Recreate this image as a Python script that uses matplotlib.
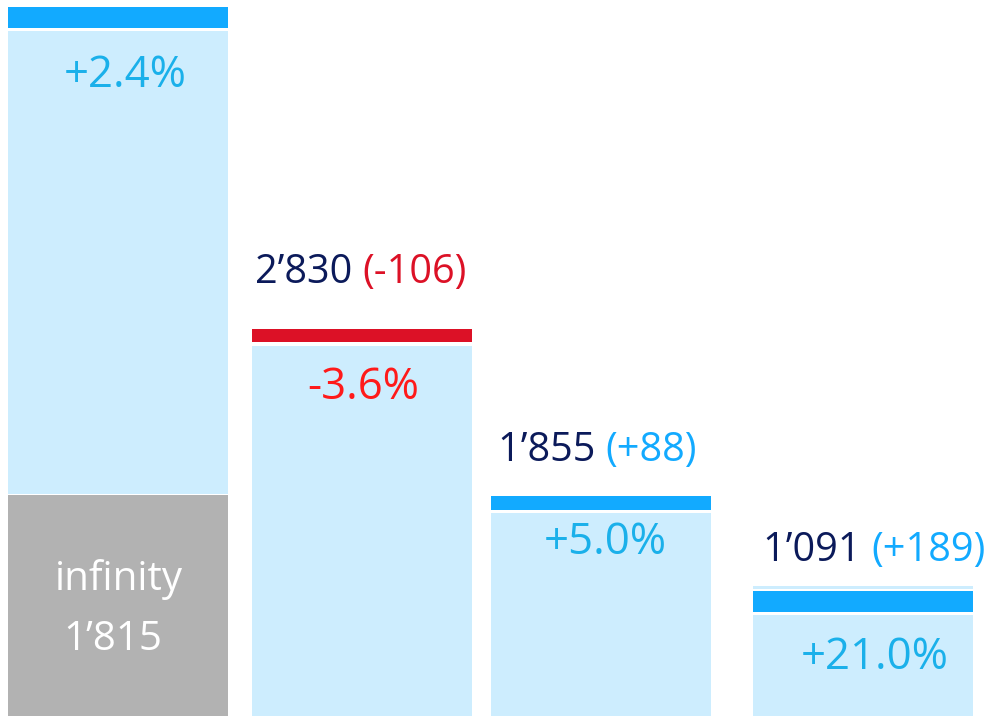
import matplotlib.pyplot as plt

plt.rcParams['font.family'] = ['Open Sans', 'DejaVu Sans']

# data
totals = ["2\u2019830", "1\u2019855", "1\u2019091"]
deltas = ["(-106)", "(+88)", "(+189)"]
pct_labels = ["+2.4%", "-3.6%", "+5.0%", "+21.0%"]
base_label = ["infinity", "1\u2019815"]

# bar levels in chart units (bottom = 0)
gray_top = 221
light_tops = [685, 370, 203, 101]
light_bottoms = [222, 0, 0, 0]
strip_bottoms = [688, 374, 206, 104]
strip_tops = [709, 387, 220, 125]
extra_line = (127, 130)   # thin light line above last strip

NAVY = "#0b1a5a"
BLUE = "#12aaff"
LIGHT = "#cdedfe"
GRAY = "#b2b2b2"
RED = "#dc1126"
PCT_BLUE = "#1ab0ea"
PCT_RED = "#ff1a1a"

xs = [118, 362, 601, 863]
w = 220

fig = plt.figure(figsize=(9.88, 7.18), dpi=100)
ax = fig.add_axes([0, 0, 1, 1])
ax.set_xlim(0, 988)
ax.set_ylim(-2, 716)
ax.axis("off")

ax.bar(xs[0], gray_top, width=w, bottom=0, color=GRAY)
for i, x in enumerate(xs):
    ax.bar(x, light_tops[i] - light_bottoms[i], width=w, bottom=light_bottoms[i], color=LIGHT)
    c = RED if i == 1 else BLUE
    ax.bar(x, strip_tops[i] - strip_bottoms[i], width=w, bottom=strip_bottoms[i], color=c)
ax.bar(xs[3], extra_line[1] - extra_line[0], width=w, bottom=extra_line[0], color=LIGHT)

pct_pos = [(125, 640), (363, 328), (605, 173), (875, 58)]
for i, (px, py) in enumerate(pct_pos):
    ax.text(px, py, pct_labels[i], ha="center", va="center", fontsize=31.5,
            color=PCT_RED if i == 1 else PCT_BLUE)

ax.text(119, 136, base_label[0], ha="center", va="center", fontsize=29, color="white")
ax.text(113, 76, base_label[1], ha="center", va="center", fontsize=29, color="white")

lab_pos = [(255, 443), (498, 265), (763, 165)]
delta_colors = [RED, BLUE, BLUE]
for i, (lx, ly) in enumerate(lab_pos):
    t = ax.text(lx, ly, totals[i] + " ", ha="left", va="center", fontsize=28.5, color=NAVY)
    ax.annotate(deltas[i], xy=(1, 0.5), xycoords=t, ha="left", va="center",
                fontsize=28.5, color=delta_colors[i])

fig.savefig("out.png", dpi=100)
